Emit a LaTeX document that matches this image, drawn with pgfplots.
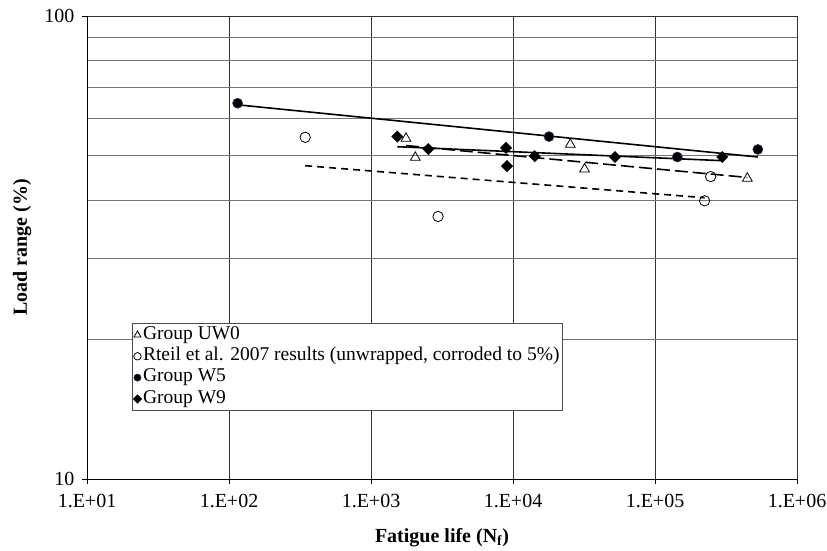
\documentclass[border=0pt]{standalone}
\usepackage{fontspec}
\setmainfont{Liberation Serif}
\usepackage{pgfplots}
\pgfplotsset{compat=1.18}
\definecolor{gridgray}{gray}{0.45}
\definecolor{edgeblue}{rgb}{0.15,0.2,0.4}
\begin{document}
\begin{tikzpicture}
\useasboundingbox (-87pt,-71pt) rectangle (740pt,479pt);
\begin{axis}[
  at={(0pt,0pt)}, anchor=south west,
  scale only axis, width=710pt, height=463pt,
  xmode=log, ymode=log,
  xmin=10, xmax=1e6, ymin=10, ymax=100,
  xtick={10,100,1000,10000,100000,1000000},
  xticklabels={1.E+01,1.E+02,1.E+03,1.E+04,1.E+05,1.E+06},
  ytick={10,100}, yticklabels={10,100},
  minor ytick={20,30,40,50,60,70,80,90},
  minor xtick={},
  xmajorgrids, ymajorgrids, yminorgrids,
  major grid style={black!80, line width=0.8pt},
  minor grid style={gridgray, line width=0.9pt},
  axis x line*=bottom, axis y line*=left,
  axis line style={-, black, line width=0.8pt},
  tick align=outside, major tick length=5pt, minor tick length=0pt,
  tick style={black, line width=0.8pt},
  /pgf/number format/assume math mode=true,
  ticklabel style={font=\fontsize{20}{22}\selectfont},
  xticklabel style={yshift=-7pt},
  yticklabel style={xshift=-4pt},
  every axis x label/.style={at={(axis description cs:0.5,-0.1275)}, anchor=center},
  every axis y label/.style={at={(axis description cs:-0.0915,0.5)}, anchor=center, rotate=90},
  label style={font=\bfseries\fontsize{20}{22}\selectfont},
  xlabel={Fatigue life (N\textsubscript{f})},
  ylabel={Load range (\%)},
  legend style={at={(axis description cs:0.0634,0.337)}, anchor=north west,
    draw=black!70, line width=0.8pt, fill=white,
    font=\fontsize{19.5}{22}\selectfont,
    inner xsep=1pt, inner ysep=1pt, row sep=0pt,
    nodes={inner sep=1.5pt, text height=13.5pt, text depth=4.8pt}},
  legend cell align=left,
  legend image code/.code={\draw[mark repeat=2,mark phase=2,#1] plot coordinates {(0pt,0pt) (5pt,0pt) (10pt,0pt)};},
  legend image post style={every mark/.append style={scale=0.72}},
]
% ---- trend lines
\addplot[forget plot, black, line width=1.6pt] coordinates {(115,64.3) (530000,49.6)};
\addplot[forget plot, black, line width=1.6pt] coordinates {(1531,52.2) (297700,48.7)};
\addplot[forget plot, black, line width=1.6pt, dash pattern=on 13pt off 5pt] coordinates {(1764,52.5) (446800,44.8)};
\addplot[forget plot, black, line width=1.6pt, dash pattern=on 7pt off 5pt] coordinates {(344,47.5) (223400,40.5)};
% ---- data
\addplot[only marks, mark=triangle, mark size=5.6pt, mark options={black, line width=0.8pt, fill=white}]
  coordinates {(1764,54.4) (2051,49.5) (25320,52.8) (31900,46.7) (446800,44.6)};
\addlegendentry{Group UW0}
\addplot[only marks, mark=o, mark size=5.2pt, mark options={black, line width=0.8pt, fill=white}]
  coordinates {(344,54.7) (2966,36.9) (246600,45.0) (223400,39.9)};
\addlegendentry{Rteil et al. 2007 results (unwrapped, corroded to 5\%)}
\addplot[only marks, mark=*, mark size=5pt, mark options={draw=edgeblue, fill=black, line width=0.6pt}]
  coordinates {(115,64.8) (17925,54.9) (143600,49.6) (530000,51.5)};
\addlegendentry{Group W5}
\addplot[only marks, mark=square*, mark size=4pt, mark options={black, fill=black, rotate=45}]
  coordinates {(1531,54.9) (2532,51.6) (8935,51.9) (9077,47.4) (14220,49.8) (52240,49.6) (297700,49.6)};
\addlegendentry{Group W9}
\end{axis}
\end{tikzpicture}
\end{document}
